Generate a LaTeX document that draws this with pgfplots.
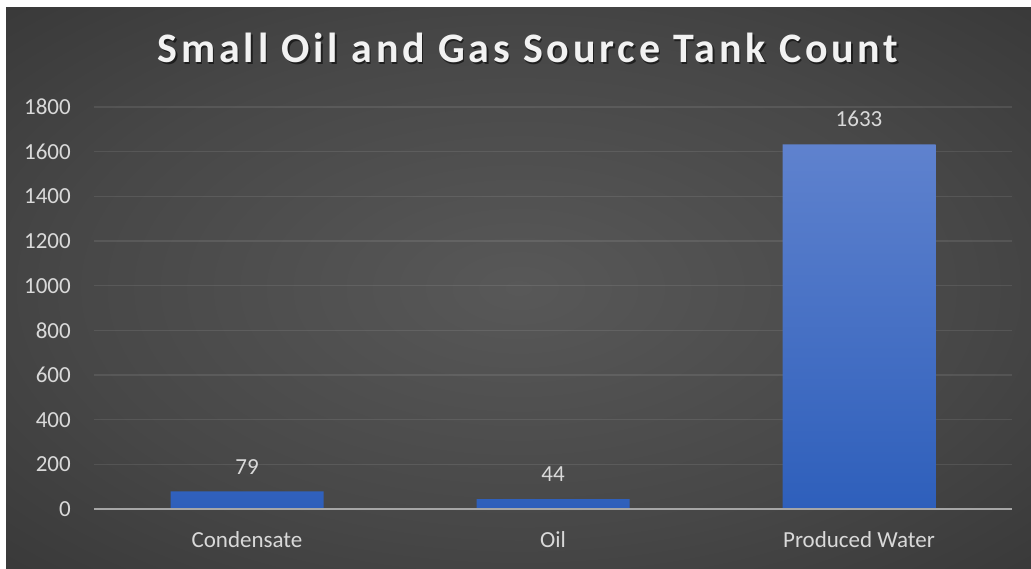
\documentclass[border=0pt]{standalone}
\usepackage{fontspec}
\setmainfont{Carlito}
\newfontfamily\titlefont{Carlito}[LetterSpace=9.0]
\usepackage{pgfplots}
\pgfplotsset{compat=1.18}
\definecolor{lbl}{HTML}{D9D9D9}
\definecolor{titlecol}{HTML}{F2F2F2}
\definecolor{barTop}{HTML}{5F82CE}
\definecolor{barBot}{HTML}{2E5FBB}
\definecolor{axln}{HTML}{A6A6A6}
\definecolor{bgIn}{HTML}{585858}
\definecolor{bgMid}{HTML}{474747}
\definecolor{bgOut}{HTML}{2B2B2B}
\definecolor{bgCorner}{HTML}{232323}
\pgfdeclareradialshading{bgshade}{\pgfpoint{0bp}{0bp}}{%
  color(0bp)=(bgIn); color(22bp)=(bgMid); color(50bp)=(bgOut); color(72bp)=(bgCorner)}
\begin{document}
\begin{tikzpicture}[x=1pt,y=1pt]
\path[use as bounding box] (0,0) rectangle (1031,568);
\fill[white] (0,0) rectangle (1031,568);
\shade[shading=bgshade] (6,0) rectangle (1031,560);
% title
\node[font={\titlefont\bfseries\fontsize{42}{48}\selectfont}, text=black, opacity=0.55, anchor=base] at (529.5,503.5) {Small Oil and Gas Source Tank Count};
\node[font={\titlefont\bfseries\fontsize{42}{48}\selectfont}, text=titlecol, anchor=base] at (528,505) {Small Oil and Gas Source Tank Count};
\begin{axis}[
  at={(94pt,59pt)}, anchor=south west,
  scale only axis, width=918pt, height=402pt,
  xmin=-0.5, xmax=2.5, ymin=0, ymax=1800,
  ytick={0,200,...,1800},
  xtick={0,1,2}, xticklabels={Condensate,Oil,Produced Water},
  major tick length=0pt,
  axis line style={draw=none},
  ymajorgrids, grid style={white, opacity=0.09, line width=1.5pt},
  tick label style={font=\fontsize{23}{28}\selectfont, text=lbl},
  yticklabel style={inner sep=0pt, xshift=-23pt},
  xticklabel style={inner sep=0pt, yshift=-22pt},
  /pgf/number format/assume math mode=true,
  /pgf/number format/1000 sep={},
  ybar, bar width=153pt,
  nodes near coords,
  every node near coord/.append style={font=\fontsize{23}{28}\selectfont, text=lbl, inner sep=0pt, yshift=17pt},
]
\addplot[draw=none, top color=barTop, bottom color=barBot] coordinates {(0,79) (1,44) (2,1633)};
\draw[axln, line width=2.5pt] (axis cs:-0.5,0) -- (axis cs:2.5,0);
\end{axis}
\end{tikzpicture}
\end{document}
